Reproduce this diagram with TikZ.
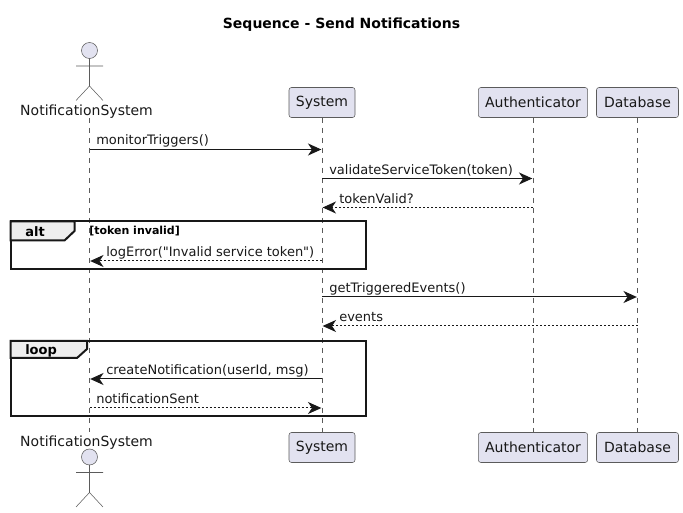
\documentclass[tikz,border=0pt]{standalone}
\usepackage{fontspec}
\setmainfont{DejaVu Sans}[Ligatures=TeXOff]
\usetikzlibrary{arrows.meta}
\definecolor{boxfill}{HTML}{E2E2F0}
\definecolor{linegray}{HTML}{181818}
\definecolor{bordergray}{HTML}{5B5B5B}
\definecolor{tabfill}{HTML}{EEEEEE}
\tikzset{
	lifeline/.style={bordergray, line width=0.4pt, dash pattern=on 3.75pt off 3.75pt},
	partbox/.style={draw=bordergray, fill=boxfill, line width=0.4pt, rounded corners=1.9pt, inner sep=0pt, minimum height=22.5pt, font=\fontsize{10.5}{12}\selectfont, text=linegray},
	actorname/.style={anchor=base, inner sep=0pt, text=linegray, font=\fontsize{10.5}{12}\selectfont},
	actorpart/.style={draw=bordergray, line width=0.4pt},
	msgsolid/.style={linegray, line width=0.75pt, -{Stealth[length=10pt, width=9pt, inset=3pt]}, shorten >=0.5pt},
	msgdash/.style={msgsolid, dash pattern=on 1.5pt off 1.5pt},
	msglabel/.style={anchor=base west, inner sep=0pt, text=linegray, font=\fontsize{9.75}{12}\selectfont},
	framebox/.style={draw=linegray, line width=1.5pt},
	tabbox/.style={draw=linegray, fill=tabfill, line width=1.5pt},
	framelabel/.style={anchor=base west, inner sep=0pt, font=\fontsize{9.75}{12}\selectfont\bfseries},
}
\begin{document}
\begin{tikzpicture}[x=0.75pt, y=-0.75pt]
	\useasboundingbox (0, 0) rectangle (683, 513);
	\node[anchor=base, inner sep=0pt, font=\fontsize{10.5}{12}\selectfont\bfseries] (title) at (341.5, 29) {Sequence - Send Notifications};

	\node[partbox, minimum width=49.5pt] (sysTop) at (322, 102.5) {System};
	\node[partbox, minimum width=82pt] (authTop) at (533, 102.5) {Authenticator};
	\node[partbox, minimum width=61.5pt] (dbTop) at (637.5, 102.5) {Database};
	\node[partbox, minimum width=49.5pt] (sysBot) at (322, 447.5) {System};
	\node[partbox, minimum width=82pt] (authBot) at (533, 447.5) {Authenticator};
	\node[partbox, minimum width=61.5pt] (dbBot) at (637.5, 447.5) {Database};

	\node[actorname] (actorNameTop) at (86.5, 116) {NotificationSystem};
	\node[actorname] (actorNameBot) at (86.5, 447) {NotificationSystem};
	\coordinate (actorTop) at (89.5, 118);
	\coordinate (actorBot) at (89.5, 432);

	\draw[lifeline] (actorTop) -- (actorBot);
	\draw[lifeline] (sysTop.south) -- (sysBot.north);
	\draw[lifeline] (authTop.south) -- (authBot.north);
	\draw[lifeline] (dbTop.south) -- (dbBot.north);

	\foreach \ytop in {0, 406.5}{
		\draw[actorpart, fill=boxfill] (89.5, 50.5+\ytop) circle (6pt);
		\draw[actorpart] (89.5, 58.5+\ytop) -- (89.5, 86+\ytop) (76, 66+\ytop) -- (103, 66+\ytop)
			(76, 100.5+\ytop) -- (89.5, 86+\ytop) -- (103, 100.5+\ytop);
	}

	\draw[framebox] (10.5, 221.5) rectangle (365.5, 269);
	\draw[tabbox] (10.5, 221.5) -- (74.5, 221.5) -- (74.5, 231) -- (64.5, 240.5) -- (10.5, 240.5) -- cycle;
	\node[framelabel] (altLabel) at (25, 237) {alt};
	\node[anchor=base west, inner sep=0pt, font=\fontsize{8.25}{10}\selectfont\bfseries] (altGuard) at (89, 235) {[token invalid]};

	\draw[framebox] (10.5, 341) rectangle (365.5, 416);
	\draw[tabbox] (10.5, 341) -- (87, 341) -- (87, 349) -- (77, 358) -- (10.5, 358) -- cycle;
	\node[framelabel] (loopLabel) at (25, 355) {loop};

	\foreach \y/\a/\b/\sty in {149.5/actorTop/sysTop/msgsolid, 178.5/sysTop/authTop/msgsolid, 207.5/authTop/sysTop/msgdash, 261/sysTop/actorTop/msgdash, 297/sysTop/dbTop/msgsolid, 326/dbTop/sysTop/msgdash, 379/sysTop/actorTop/msgsolid, 408/actorTop/sysTop/msgdash}
		\draw[\sty] (\a |- 0,\y) -- (\b |- 0,\y);

	\node[msglabel] (m1) at (96, 145) {monitorTriggers()};
	\node[msglabel] (m2) at (329, 175) {validateServiceToken(token)};
	\node[msglabel] (m3) at (339, 204) {tokenValid?};
	\node[msglabel] (m4) at (106, 257) {logError("Invalid service token")};
	\node[msglabel] (m5) at (329, 293) {getTriggeredEvents()};
	\node[msglabel] (m6) at (339, 322) {events};
	\node[msglabel] (m7) at (106, 375) {createNotification(userId, msg)};
	\node[msglabel] (m8) at (96, 404) {notificationSent};
\end{tikzpicture}
\end{document}
